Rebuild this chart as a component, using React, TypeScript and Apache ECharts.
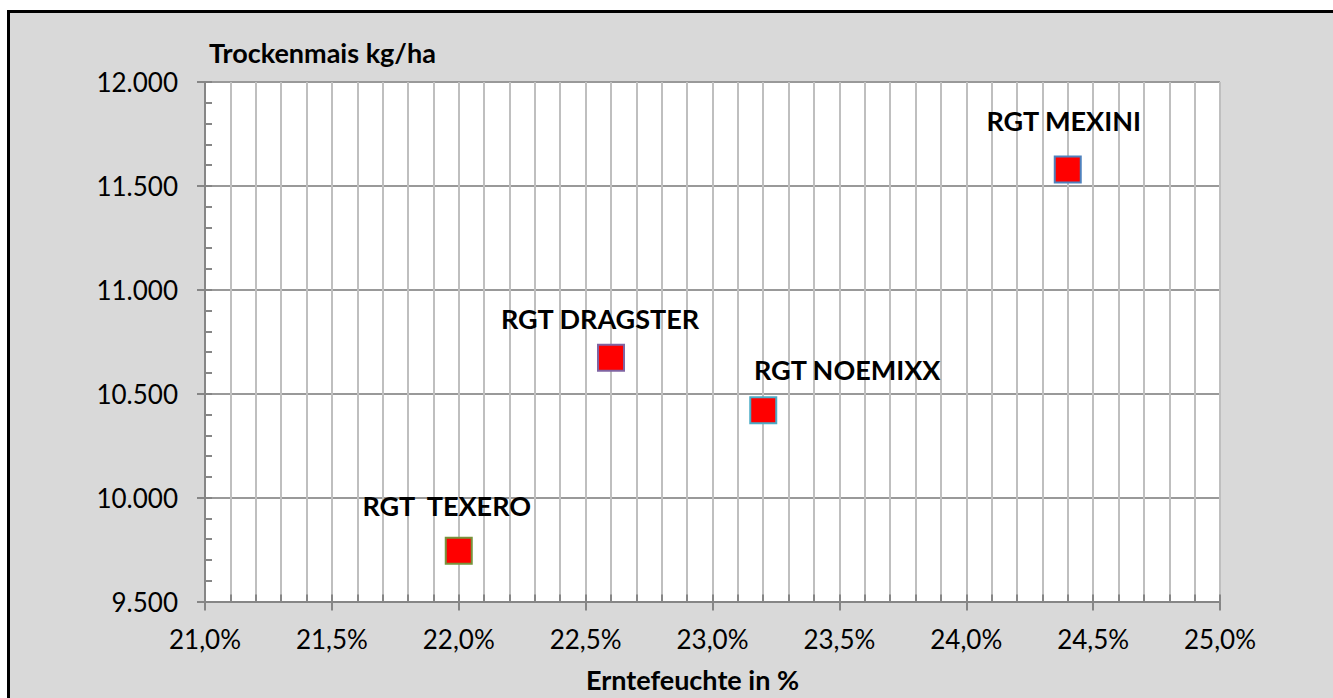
import React, { useEffect, useRef } from "react";
import * as echarts from "echarts";

const varieties = ["RGT  TEXERO", "RGT DRAGSTER", "RGT NOEMIXX", "RGT MEXINI"];
const moisture = [22.0, 22.6, 23.2, 24.4];
const yields = [9744, 10673, 10420, 11579];
const borderColors = ["#77933C", "#8064A2", "#4BACC6", "#4F81BD"];
const labelOffsets = [[-12, -45], [-11, -39], [84, -41], [-4, -49]];

const X_MIN = 21;
const X_MAX = 25;
const Y_MIN = 9500;
const Y_MAX = 12000;

const FONT = "Lato, 'Open Sans', sans-serif";

const fmtX = (v: number) => v.toFixed(1).replace(".", ",") + "%";
const fmtY = (v: number) =>
  Math.round(v).toString().replace(/\B(?=(\d{3})+(?!\d))/g, ".");

export default function App() {
  const ref = useRef<HTMLDivElement>(null);
  useEffect(() => {
    if (!ref.current) return;
    const chart = echarts.init(ref.current, undefined, { renderer: "svg" });
    const series = varieties.map((name, i) => ({
      type: "scatter",
      name,
      xAxisIndex: 0,
      yAxisIndex: 0,
      symbol: "rect",
      symbolSize: 26,
      itemStyle: { color: "#FF0000", borderColor: borderColors[i], borderWidth: 2, opacity: 1 },
      label: {
        show: true,
        position: "inside",
        offset: labelOffsets[i],
        formatter: name,
        color: "#000",
        fontFamily: FONT,
        fontWeight: "bold",
        fontSize: 27,
      },
      z: 5,
      data: [[moisture[i], yields[i]]],
    }));
    chart.setOption({
      animation: false,
      backgroundColor: "#ffffff",
      graphic: [
        {
          type: "rect",
          z: -10,
          silent: true,
          shape: { x: 8.5, y: 11.5, width: 1400, height: 800 },
          style: { fill: "#D9D9D9", stroke: "#000000", lineWidth: 3 },
        },
      ],
      grid: {
        left: 205,
        right: 113,
        top: 82,
        bottom: 95,
        show: true,
        backgroundColor: "#ffffff",
        borderWidth: 0,
      },
      xAxis: [
        {
          type: "value",
          min: X_MIN,
          max: X_MAX,
          interval: 0.5,
          name: "Erntefeuchte in %",
          nameLocation: "middle",
          nameGap: 78,
          nameTextStyle: {
            color: "#000",
            fontFamily: FONT,
            fontWeight: "bold",
            fontSize: 27,
            verticalAlign: "middle",
            padding: [0, 40, 0, 0],
          },
          axisLine: { show: true, lineStyle: { color: "#868686", width: 2 } },
          axisTick: { show: true, inside: false, length: 9, lineStyle: { color: "#868686", width: 2 } },
          axisLabel: {
            formatter: fmtX,
            color: "#000",
            fontFamily: FONT,
            fontSize: 26,
            margin: 24,
          },
          splitLine: { show: true, lineStyle: { color: "#BFBFBF", width: 2 } },
          minorTick: { show: false, splitNumber: 5 },
          minorSplitLine: { show: true, lineStyle: { color: "#BFBFBF", width: 2 } },
        },
        {
          type: "value",
          min: X_MIN,
          max: X_MAX,
          interval: 0.1,
          position: "bottom",
          axisLine: { show: false },
          axisTick: { show: true, inside: true, length: 7, lineStyle: { color: "#868686", width: 2 } },
          axisLabel: { show: false },
          splitLine: { show: false },
        },
      ],
      yAxis: [
        {
          type: "value",
          min: Y_MIN,
          max: Y_MAX,
          interval: 500,
          name: "Trockenmais kg/ha",
          nameLocation: "end",
          nameGap: 30,
          nameTextStyle: {
            color: "#000",
            fontFamily: FONT,
            fontWeight: "bold",
            fontSize: 27,
            align: "left",
            verticalAlign: "middle",
            padding: [0, 0, 0, 4],
          },
          axisLine: { show: true, lineStyle: { color: "#868686", width: 2 } },
          axisTick: { show: true, inside: false, length: 8, lineStyle: { color: "#868686", width: 2 } },
          axisLabel: {
            formatter: fmtY,
            color: "#000",
            fontFamily: FONT,
            fontSize: 26,
            margin: 27,
          },
          splitLine: { show: true, lineStyle: { color: "#999999", width: 2 } },
        },
        {
          type: "value",
          min: Y_MIN,
          max: Y_MAX,
          interval: 100,
          position: "left",
          axisLine: { show: false },
          axisTick: { show: true, inside: true, length: 7, lineStyle: { color: "#868686", width: 2 } },
          axisLabel: { show: false },
          splitLine: { show: false },
        },
      ],
      series,
    });
    return () => chart.dispose();
  }, []);
  return (
    <div
      ref={ref}
      style={{ position: "fixed", left: 0, top: 0, width: 1333, height: 698 }}
    />
  );
}
